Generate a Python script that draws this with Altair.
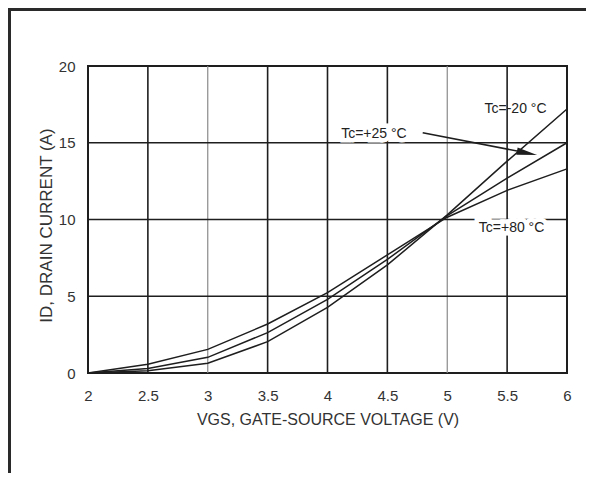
import altair as alt
import pandas as pd

# ---- data ----
vgs = [2, 2.5, 3, 3.5, 4, 4.5, 5, 5.5, 6]
id_m20 = [0, 0.15, 0.63, 2.04, 4.28, 7.04, 10.3, 13.8, 17.2]
id_p25 = [0, 0.3, 1.02, 2.63, 4.8, 7.4, 10.25, 12.7, 15.0]
id_p80 = [0, 0.57, 1.54, 3.19, 5.23, 7.69, 10.15, 11.9, 13.3]
series_names = ["Tc=-20 °C", "Tc=+25 °C", "Tc=+80 °C"]

x_ticks = [2, 2.5, 3, 3.5, 4, 4.5, 5, 5.5, 6]
y_ticks = [0, 5, 10, 15, 20]
grid_x = [2.5, 3, 3.5, 4, 4.5, 5, 5.5]
grid_y = [5, 10, 15]
light_grid_x = [3, 5]

label_text = ["Tc=-20 °C", "Tc=+25 °C", "Tc=+80 °C"]
label_x = [5.57, 4.388, 5.537]
label_y = [16.92, 15.31, 9.19]
label_halo = [False, True, True]

arrow_x = [4.795, 5.68]
arrow_y = [15.65, 14.32]
arrow_tip_x = [5.75]
arrow_tip_y = [14.2]

# ---- tables ----
rows = []
for name, vals in zip(series_names, [id_m20, id_p25, id_p80]):
    for v, i in zip(vgs, vals):
        rows.append({"vgs": v, "id": i, "series": name})
curves = pd.DataFrame(rows)
labels = pd.DataFrame({"text": label_text, "x": label_x, "y": label_y, "halo": label_halo})
arrow = pd.DataFrame({"x": arrow_x, "y": arrow_y})
tip = pd.DataFrame({"x": arrow_tip_x, "y": arrow_tip_y})
gx = pd.DataFrame({"x": grid_x})
gy = pd.DataFrame({"y": grid_y})

FONT = "Liberation Sans"
INK = "#1e1e1e"

xs = alt.Scale(domain=[2, 6], nice=False, zero=False)
ys = alt.Scale(domain=[0, 20], nice=False)

x_axis = alt.Axis(
    values=x_ticks, format="~g", grid=False, domain=False, ticks=False, tickSize=0,
    labelFont=FONT, labelFontSize=15, labelColor="#333", labelBaseline="alphabetic",
    labelPadding=27, labelFlush=False,
    title="VGS, GATE-SOURCE VOLTAGE (V)", titleFont=FONT, titleFontSize=16,
    titleFontWeight="normal", titleColor="#333", titleBaseline="alphabetic", titleY=51,
)
y_axis = alt.Axis(
    values=y_ticks, grid=False, domain=False, ticks=False, tickSize=0,
    labelFont=FONT, labelFontSize=15, labelColor="#333", labelBaseline="middle",
    labelPadding=13, labelFlush=False,
    title="ID, DRAIN CURRENT (A)", titleFont=FONT, titleFontSize=17,
    titleFontWeight="normal", titleColor="#333", titleBaseline="alphabetic",
    titleX=-37, titleY=159, titleAngle=270, titleAlign="center",
)

vgrid = alt.Chart(gx).mark_rule().encode(
    x=alt.X("x:Q", scale=xs, axis=x_axis),
    color=alt.condition(alt.FieldOneOfPredicate(field="x", oneOf=light_grid_x),
                        alt.value("#8a8a8a"), alt.value(INK)),
    strokeWidth=alt.condition(alt.FieldOneOfPredicate(field="x", oneOf=light_grid_x),
                              alt.value(1.2), alt.value(1.6)),
)
hgrid = alt.Chart(gy).mark_rule(color=INK, strokeWidth=1.6).encode(
    y=alt.Y("y:Q", scale=ys, axis=y_axis),
)

lines = alt.Chart(curves).mark_line(color=INK, strokeWidth=1.5).encode(
    x=alt.X("vgs:Q", scale=xs),
    y=alt.Y("id:Q", scale=ys),
    detail="series:N",
)

halo = alt.Chart(labels).transform_filter(alt.datum.halo).mark_text(
    font=FONT, fontSize=14, color="white", stroke="white", strokeWidth=9,
    align="center", baseline="alphabetic",
).encode(x=alt.X("x:Q", scale=xs), y=alt.Y("y:Q", scale=ys), text="text:N")

texts = alt.Chart(labels).mark_text(
    font=FONT, fontSize=14, color="#222", align="center", baseline="alphabetic",
).encode(x=alt.X("x:Q", scale=xs), y=alt.Y("y:Q", scale=ys), text="text:N")

arrow_line = alt.Chart(arrow).mark_line(color=INK, strokeWidth=1.6).encode(
    x=alt.X("x:Q", scale=xs), y=alt.Y("y:Q", scale=ys),
)
arrow_head = alt.Chart(tip).mark_point(
    shape="M-2,-0.36L0,0L-2,0.36Z", filled=True, size=420, angle=11,
    color=INK, opacity=1, strokeWidth=0,
).encode(x=alt.X("x:Q", scale=xs), y=alt.Y("y:Q", scale=ys))

# outer page frame (top and left edges)
frame_left = alt.Chart(gx).mark_rule(color="#2a2a2a", strokeWidth=3).encode(
    x=alt.value(-78.5), y=alt.value(-58), y2=alt.value(408)
)
frame_top = alt.Chart(gx).mark_rule(color="#2a2a2a", strokeWidth=3).encode(
    x=alt.value(-80), x2=alt.value(498), y=alt.value(-56.5)
)

chart = alt.layer(
    vgrid, hgrid, lines, halo, texts, arrow_line, arrow_head, frame_left, frame_top
).properties(
    width=479, height=307,
    autosize=alt.AutoSizeParams(type="none"),
    padding={"left": 80, "top": 58, "right": 19, "bottom": 100},
    background="white",
).configure_view(stroke=INK, strokeWidth=2)

chart.save("out.html", embed_options={"renderer": "svg", "actions": False})
